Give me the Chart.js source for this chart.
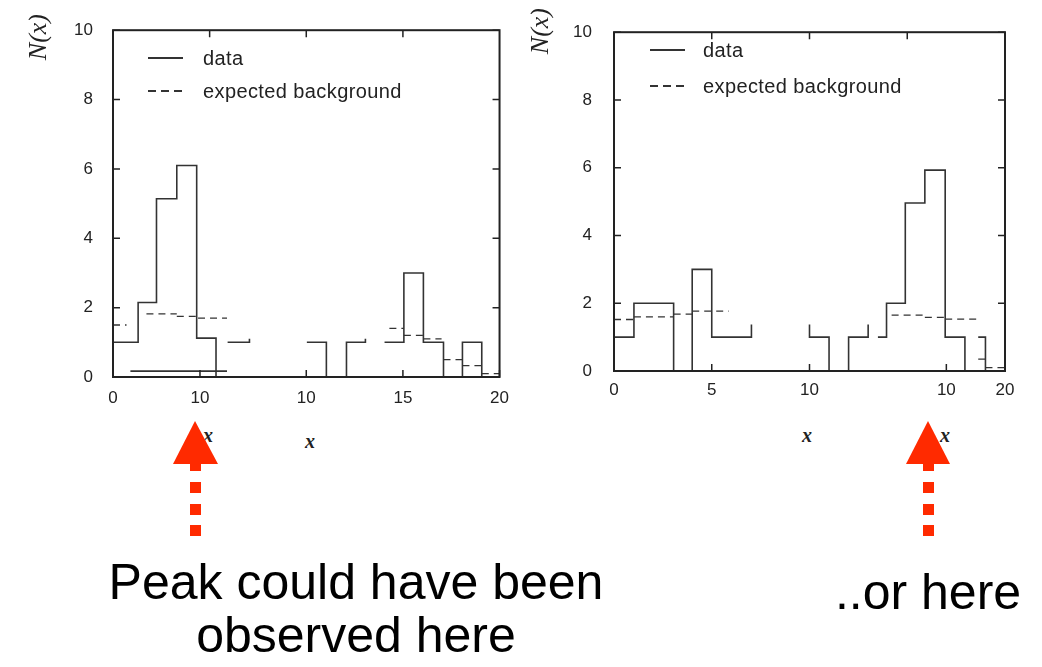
<!DOCTYPE html>
<html>
<head>
<meta charset="utf-8">
<script src="https://cdn.jsdelivr.net/npm/chart.js@4.4.0/dist/chart.umd.min.js"></script>
<style>
  body { margin: 0; background: #fff; width: 1042px; height: 667px; position: relative; overflow: hidden;
         font-family: "Liberation Sans", Arial, Helvetica, sans-serif; color: #111; }
  .box { position: absolute; top: 0; }
  .ny { position: absolute; font: italic 26px "Liberation Serif", "Times New Roman", serif; color: #222;
        writing-mode: vertical-rl; transform: rotate(180deg); line-height: 26px; }
  .xt { position: absolute; font: italic bold 20px "Liberation Serif", "Times New Roman", serif; color: #222; }
  .leg { position: absolute; font-size: 20px; letter-spacing: 0.4px; color: #222; line-height: 20px; }
  .legline { position: absolute; width: 35px; height: 1.5px; background: #333; }
  .legline.dash { background: repeating-linear-gradient(90deg, #333 0 8px, transparent 8px 13px); }
  .big { position: absolute; font-size: 50px; line-height: 53px; text-align: center; color: #000; }
</style>
</head>
<body>

<div class="box" style="left:0;width:520px;height:420px"><canvas id="left" width="520" height="420"></canvas></div>
<div class="box" style="left:520px;width:522px;height:420px"><canvas id="right" width="522" height="420"></canvas></div>

<div class="ny" style="left:25px;top:14px">N(x)</div>
<div class="ny" style="left:527px;top:8px">N(x)</div>

<div class="legline" style="left:148px;top:57px"></div>
<div class="leg" style="left:203px;top:48px">data</div>
<div class="legline dash" style="left:148px;top:90px"></div>
<div class="leg" style="left:203px;top:81px">expected background</div>

<div class="legline" style="left:650px;top:49px"></div>
<div class="leg" style="left:703px;top:40px">data</div>
<div class="legline dash" style="left:650px;top:85px"></div>
<div class="leg" style="left:703px;top:76px">expected background</div>

<div class="xt" style="left:305px;top:430px">x</div>
<div class="xt" style="left:802px;top:424px">x</div>
<div class="xt" style="left:203px;top:424px">x</div>
<div class="xt" style="left:940px;top:424px">x</div>

<svg width="1042" height="667" style="position:absolute;left:0;top:0">
  <g fill="#ff2a00">
    <polygon points="195,421 173,464 218,464"/>
    <rect x="190" y="463" width="11" height="8"/>
    <rect x="190" y="482" width="11" height="11"/>
    <rect x="190" y="504" width="11" height="11"/>
    <rect x="190" y="525" width="11" height="11"/>
    <polygon points="928,421 906,464 950,464"/>
    <rect x="923" y="463" width="11" height="8"/>
    <rect x="923" y="482" width="11" height="11"/>
    <rect x="923" y="504" width="11" height="11"/>
    <rect x="923" y="525" width="11" height="11"/>
  </g>
</svg>

<div class="big" style="left:0;width:712px;top:556px">Peak could have been<br>observed here</div>
<div class="big" style="left:828px;width:200px;top:566px">..or here</div>

<script>
// left panel: histogram segments (bin edges and level starting at each edge)
var leftDataX = [[0, 1.3, 2.25, 3.3, 4.33, 5.33], [0.9, 5.9], [5.93, 7.06], [10.03, 11.04, 12.08, 13.06], [14.05, 15.05, 16.06, 17.1, 18.08, 19.08, 20]];
var leftDataY = [[1, 2.15, 5.14, 6.1, 1.12, 0], [0.17, 0.17], [1, 1.1], [1, 0, 1, 1.1], [1, 3, 1, 0, 1, 0, 0]];
var leftBgX = [[0, 0.7], [1.73, 3.3, 4.4, 5.9], [14.3, 15.05, 16.06, 17.0], [17.1, 18.08, 19.08, 20]];
var leftBgY = [[1.5], [1.82, 1.75, 1.7], [1.4, 1.2, 1.1], [0.5, 0.33, 0.1]];
var leftXTicks = [0, 4.5, 10, 15, 20];
var leftXLabels = ['0', '10', '10', '15', '20'];

// right panel
var rightDataX = [[0, 1.02, 3.05, 4.0, 5.0, 7.03], [10, 10, 11, 12, 13], [13.5, 13.94, 14.9, 15.9, 16.94, 17.95, 18.63], [18.63, 19.0]];
var rightDataY = [[1, 2, 0, 3, 1, 1.37], [1.37, 1, 0, 1, 1.37], [1, 2, 4.96, 5.93, 1, 0, 0], [1, 0]];
var rightBgX = [[0, 1.02, 3.05, 4.0, 5.87], [14.2, 15.9, 16.94, 18.63], [18.63, 19.0, 20]];
var rightBgY = [[1.52, 1.6, 1.68, 1.77], [1.65, 1.58, 1.53], [0.35, 0.1]];
var rightXTicks = [0, 5, 10, 17, 20];
var rightXLabels = ['0', '5', '10', '10', '20'];

var topTicks = [5, 10, 15];
var yTicks = [0, 2, 4, 6, 8, 10];

function stepPoints(xs, ys) {
  var pts = [];
  xs.forEach(function(seg, s) {
    seg.forEach(function(x, i) { pts.push({x: x, y: ys[s][i]}); });
    pts.push({x: seg[seg.length - 1], y: null});
  });
  return pts;
}

function flatPoints(xs, ys) {
  var pts = [];
  xs.forEach(function(seg, s) {
    ys[s].forEach(function(v, i) {
      pts.push({x: seg[i], y: v});
      pts.push({x: seg[i + 1], y: v});
      pts.push({x: seg[i + 1], y: null});
    });
  });
  return pts;
}

// frame box and inward tick marks like the original plot
var frame = {
  id: 'frame',
  afterDatasetsDraw: function(chart, args, opts) {
    var ctx = chart.ctx, a = chart.chartArea, x = chart.scales.x, y = chart.scales.y;
    ctx.save();
    ctx.strokeStyle = '#222';
    ctx.lineWidth = 1.5;
    ctx.beginPath();
    y.ticks.forEach(function(t) {
      var py = y.getPixelForValue(t.value);
      ctx.moveTo(a.left, py); ctx.lineTo(a.left + 7, py);
      ctx.moveTo(a.right, py); ctx.lineTo(a.right - 7, py);
    });
    x.ticks.forEach(function(t) {
      var px = x.getPixelForValue(t.value);
      ctx.moveTo(px, a.bottom); ctx.lineTo(px, a.bottom - 7);
    });
    opts.top.forEach(function(v) {
      var px = x.getPixelForValue(v);
      ctx.moveTo(px, a.top); ctx.lineTo(px, a.top + 7);
    });
    ctx.stroke();
    ctx.lineWidth = 2;
    ctx.strokeRect(a.left, a.top, a.width, a.height);
    ctx.restore();
  }
};

function makeChart(id, dx, dy, bx, by, xTicks, xLabels, pad, yPad, xPad) {
  var font = {family: '"Liberation Sans", Arial, sans-serif', size: 17};
  return new Chart(document.getElementById(id), {
    type: 'line',
    data: {
      datasets: [
        // 'before' = horizontal first, then vertical (histogram steps)
        {label: 'data', data: stepPoints(dx, dy), stepped: 'before', borderColor: '#333', borderWidth: 1.6, pointRadius: 0, fill: false},
        {label: 'expected background', data: flatPoints(bx, by), borderColor: '#333', borderWidth: 1.3, borderDash: [7, 5], pointRadius: 0, fill: false}
      ]
    },
    plugins: [frame],
    options: {
      responsive: false,
      animation: false,
      layout: {padding: pad},
      plugins: {legend: {display: false}, tooltip: {enabled: false}, frame: {top: topTicks}},
      scales: {
        x: {
          type: 'linear', min: 0, max: 20,
          grid: {display: false, drawTicks: false}, border: {display: false},
          afterBuildTicks: function(s) { s.ticks = xTicks.map(function(v) { return {value: v}; }); },
          afterFit: function(s) { s.height = 30; },
          ticks: {padding: xPad, color: '#222', font: font, maxRotation: 0, autoSkip: false,
                  callback: function(v, i) { return xLabels[i]; }}
        },
        y: {
          min: 0, max: 10,
          grid: {display: false, drawTicks: false}, border: {display: false},
          afterBuildTicks: function(s) { s.ticks = yTicks.map(function(v) { return {value: v}; }); },
          afterFit: function(s) { s.width = 53; },
          ticks: {padding: yPad, color: '#222', font: font}
        }
      }
    }
  });
}

makeChart('left', leftDataX, leftDataY, leftBgX, leftBgY, leftXTicks, leftXLabels,
  {left: 60, right: 20, top: 20, bottom: 13}, 20, 11);
makeChart('right', rightDataX, rightDataY, rightBgX, rightBgY, rightXTicks, rightXLabels,
  {left: 41, right: 37, top: 14, bottom: 19}, 22, 9);
</script>
</body>
</html>
